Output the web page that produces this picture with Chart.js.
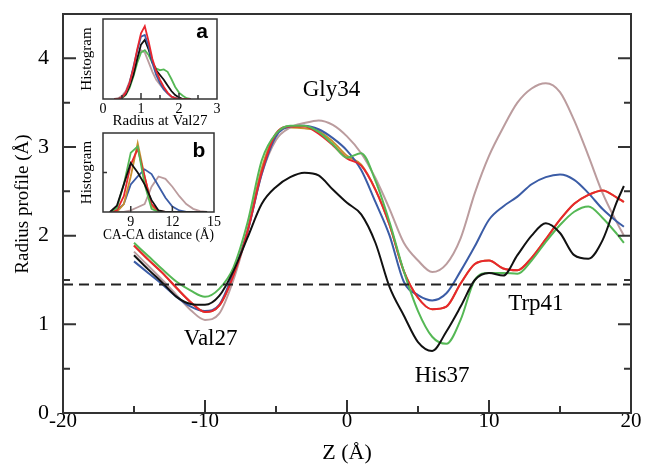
<!DOCTYPE html>
<html>
<head>
<meta charset="utf-8">
<script src="https://cdn.jsdelivr.net/npm/chart.js@4.4.1/dist/chart.umd.min.js"></script>
<style>
  html, body { margin: 0; padding: 0; background: #fff; }
  #wrap { position: relative; width: 646px; height: 466px; }
  #wrap canvas { position: absolute; }
</style>
</head>
<body>
<div id="wrap">
  <canvas id="main" width="646" height="466" style="left:0;top:0"></canvas>
  <canvas id="insetA" width="145" height="115" style="left:78px;top:15px"></canvas>
  <canvas id="insetB" width="145" height="115" style="left:78px;top:129px"></canvas>
</div>
<script>
'use strict';
// main panel: radius profile along the channel axis
const zValues = [-15, -14, -13, -12, -11, -10, -9, -8, -7, -6, -5, -4, -3, -2, -1, 0, 1, 2, 3, 4,
  5, 6, 7, 8, 9, 10, 11, 12, 13, 14, 15, 16, 17, 18, 19, 19.5];
const blackR = [1.78, 1.62, 1.47, 1.31, 1.23, 1.22, 1.32, 1.60, 1.98, 2.36, 2.55, 2.66, 2.71, 2.68, 2.52, 2.37, 2.24, 1.92, 1.42, 1.10,
  0.80, 0.70, 0.92, 1.20, 1.50, 1.58, 1.55, 1.78, 2.00, 2.14, 2.03, 1.78, 1.74, 1.95, 2.38, 2.56];
const redR = [1.89, 1.73, 1.58, 1.41, 1.25, 1.14, 1.21, 1.55, 2.05, 2.72, 3.15, 3.23, 3.23, 3.15, 3.02, 2.87, 2.79, 2.52, 2.12, 1.60,
  1.30, 1.17, 1.20, 1.46, 1.68, 1.72, 1.63, 1.61, 1.75, 1.96, 2.18, 2.36, 2.46, 2.51, 2.43, 2.38];
const greenR = [1.92, 1.77, 1.62, 1.48, 1.38, 1.31, 1.40, 1.64, 2.15, 2.85, 3.15, 3.24, 3.24, 3.17, 3.03, 2.88, 2.93, 2.62, 2.15, 1.60,
  1.15, 0.86, 0.78, 1.05, 1.50, 1.58, 1.58, 1.57, 1.72, 1.93, 2.12, 2.27, 2.33, 2.20, 2.02, 1.92];
const blueR = [1.71, 1.58, 1.45, 1.31, 1.20, 1.15, 1.22, 1.58, 2.05, 2.70, 3.12, 3.23, 3.24, 3.20, 3.10, 2.96, 2.74, 2.38, 2.00, 1.48,
  1.33, 1.27, 1.35, 1.60, 1.88, 2.18, 2.33, 2.44, 2.58, 2.66, 2.69, 2.63, 2.48, 2.30, 2.16, 2.10];
const brownR = [1.82, 1.66, 1.50, 1.33, 1.16, 1.05, 1.12, 1.50, 2.05, 2.70, 3.08, 3.22, 3.27, 3.30, 3.25, 3.12, 2.93, 2.65, 2.30, 1.92,
  1.72, 1.59, 1.68, 1.97, 2.48, 2.90, 3.22, 3.50, 3.66, 3.72, 3.62, 3.30, 2.90, 2.48, 2.15, 2.00];
const orangeR = [1.89, 1.73, 1.58, 1.41, 1.25, 1.14, 1.21, 1.55, 2.07, 2.76, 3.15, 3.22, 3.21, 3.18, 3.06, 2.90, 2.80, 2.52, 2.12, 1.60,
  1.30, 1.17, 1.20, 1.46, 1.68, 1.72, 1.63, 1.61, 1.75, 1.96, 2.18, 2.36, 2.46, 2.51, 2.43, 2.38];
const cutoffR = 1.45;
const zTickLabels = [-20, -10, 0, 10, 20];
const rTickLabels = [0, 1, 2, 3, 4];
const residueNames = ['Gly34', 'Val27', 'His37', 'Trp41'];
const residueZ = [-1.1, -9.6, 6.7, 13.3];
const residueR = [3.57, 0.77, 0.35, 1.16];

// inset a: radius histogram at Val27
const radiusBins = [0.3, 0.4, 0.5, 0.6, 0.7, 0.8, 0.9, 1.0, 1.1, 1.2, 1.3, 1.4, 1.5, 1.6, 1.7, 1.8, 1.9, 2.0, 2.1, 2.2, 2.3];
const histARed = [0, 0, 0.02, 0.08, 0.20, 0.38, 0.62, 0.82, 0.91, 0.72, 0.50, 0.35, 0.24, 0.15, 0.08, 0.03, 0.01, 0, 0, 0, 0];
const histABlue = [0, 0, 0.02, 0.08, 0.20, 0.40, 0.60, 0.78, 0.80, 0.66, 0.45, 0.30, 0.20, 0.12, 0.07, 0.03, 0.01, 0, 0, 0, 0];
const histABlack = [0, 0, 0.02, 0.06, 0.16, 0.30, 0.50, 0.68, 0.74, 0.62, 0.46, 0.36, 0.30, 0.24, 0.17, 0.10, 0.05, 0.02, 0, 0, 0];
const histAGreen = [0, 0, 0.01, 0.05, 0.14, 0.28, 0.45, 0.58, 0.61, 0.55, 0.45, 0.38, 0.36, 0.37, 0.34, 0.25, 0.15, 0.08, 0.04, 0.01, 0];
const histABrown = [0, 0.01, 0.04, 0.10, 0.22, 0.38, 0.52, 0.61, 0.58, 0.46, 0.34, 0.24, 0.18, 0.12, 0.07, 0.03, 0.01, 0, 0, 0, 0];
const radiusTickLabels = [0, 1, 2, 3];

// inset b: CA-CA distance histogram
const distBins = [7.5, 8.0, 8.5, 9.0, 9.5, 10.0, 10.5, 11.0, 11.5, 12.0, 12.5, 13.0, 13.5, 14.0, 14.5];
const histBGreen = [0, 0.05, 0.35, 0.75, 0.83, 0.35, 0.04, 0, 0, 0, 0, 0, 0, 0, 0];
const histBOrange = [0, 0, 0.10, 0.45, 0.87, 0.45, 0.08, 0, 0, 0, 0, 0, 0, 0, 0];
const histBRed = [0, 0.02, 0.20, 0.60, 0.80, 0.45, 0.10, 0.01, 0, 0, 0, 0, 0, 0, 0];
const histBBlack = [0, 0.08, 0.35, 0.62, 0.50, 0.35, 0.15, 0.02, 0, 0, 0, 0, 0, 0, 0];
const histBBlue = [0, 0.02, 0.10, 0.35, 0.45, 0.54, 0.48, 0.33, 0.18, 0.07, 0.02, 0, 0, 0, 0];
const histBBrown = [0, 0, 0, 0.02, 0.06, 0.10, 0.32, 0.45, 0.42, 0.32, 0.20, 0.10, 0.04, 0.01, 0];
const distTickLabels = [9, 12, 15];

const SERIF = "'Liberation Serif', 'Times New Roman', serif";
const SANS = "'Liberation Sans', Arial, sans-serif";
const colors = {
  black: '#111111', red: '#e8262e', green: '#55b855', blue: '#3b5ca6', brown: '#bb9c9e', orange: '#c8902e',
};

const pts = (xs, ys) => xs.map((x, i) => ({x, y: ys[i]}));
const near = (v, step) => Math.abs(v / step - Math.round(v / step)) < 1e-6;
const range = (a, b, step) => {
  const out = [];
  for (let v = a; v <= b + 1e-9; v += step) out.push(Math.round(v * 100) / 100);
  return out;
};

// frame round the plot area, ticks drawn inward
const frameTicks = {
  id: 'frameTicks',
  afterDatasetsDraw(chart, args, o) {
    const {ctx, chartArea: a} = chart;
    const x = chart.scales.x;
    const y = chart.scales.y;
    ctx.save();
    ctx.strokeStyle = o.color;
    ctx.lineWidth = o.lineWidth;
    ctx.beginPath();
    (o.bottom || []).forEach((v) => {
      const px = x.getPixelForValue(v);
      const len = near(v, o.xMajor) ? o.majorLen : o.minorLen;
      ctx.moveTo(px, a.bottom);
      ctx.lineTo(px, a.bottom - len);
    });
    (o.left || []).forEach((v) => {
      const py = y.getPixelForValue(v);
      const len = near(v, o.yMajor) ? o.majorLen : o.minorLen;
      ctx.moveTo(a.left, py);
      ctx.lineTo(a.left + len, py);
    });
    (o.right || []).forEach((v) => {
      const py = y.getPixelForValue(v);
      const len = near(v, o.yMajor) ? o.majorLen : o.minorLen;
      ctx.moveTo(a.right, py);
      ctx.lineTo(a.right - len, py);
    });
    ctx.stroke();
    ctx.strokeRect(a.left, a.top, a.right - a.left, a.bottom - a.top);
    if (o.letter) {
      ctx.fillStyle = '#000';
      ctx.font = 'bold 21px ' + SANS;
      ctx.textAlign = 'center';
      ctx.textBaseline = 'alphabetic';
      ctx.fillText(o.letter, a.right - 15, a.top + o.letterDy);
    }
    ctx.restore();
  },
};

// residue names written at data positions
const residueText = {
  id: 'residueText',
  afterDatasetsDraw(chart, args, o) {
    if (!o.names) return;
    const {ctx} = chart;
    ctx.save();
    ctx.fillStyle = '#000';
    ctx.font = '23px ' + SERIF;
    ctx.textAlign = 'center';
    ctx.textBaseline = 'alphabetic';
    o.names.forEach((name, i) => {
      ctx.fillText(name, chart.scales.x.getPixelForValue(o.z[i]), chart.scales.y.getPixelForValue(o.r[i]));
    });
    ctx.restore();
  },
};

const line = (label, xs, ys, color, width, extra) => Object.assign({
  label, data: pts(xs, ys), borderColor: color, borderWidth: width,
  pointRadius: 0, fill: false,
}, extra || {});

const smooth = {cubicInterpolationMode: 'monotone'};

// chart.js paints the first dataset on top, so the list runs top to bottom
new Chart(document.getElementById('main'), {
  type: 'line',
  data: {
    datasets: [
      line('cutoff', [-20, 20], [cutoffR, cutoffR], '#222', 2, {borderDash: [10, 6]}),
      line('black', zValues, blackR, colors.black, 2, smooth),
      line('green', zValues, greenR, colors.green, 2, smooth),
      line('red', zValues, redR, colors.red, 2, smooth),
      line('blue', zValues, blueR, colors.blue, 2, smooth),
      line('brown', zValues, brownR, colors.brown, 2, smooth),
      line('orange', zValues, orangeR, colors.orange, 2, smooth),
    ],
  },
  options: {
    responsive: false,
    animation: false,
    events: [],
    layout: {padding: {left: 8, top: 14, right: 15, bottom: 0}},
    plugins: {
      legend: {display: false},
      tooltip: {enabled: false},
      frameTicks: {
        color: '#333', lineWidth: 2, majorLen: 13, minorLen: 7, xMajor: 10, yMajor: 1,
        bottom: range(-20, 20, 5), left: range(0, 4.5, 0.5), right: range(0, 4.5, 0.5),
      },
      residueText: {names: residueNames, z: residueZ, r: residueR},
    },
    scales: {
      x: {
        type: 'linear', min: -20, max: 20,
        grid: {display: false, drawTicks: false},
        border: {display: false},
        afterBuildTicks: (s) => { s.ticks = zTickLabels.map((v) => ({value: v})); },
        afterFit: (s) => { s.height = 53; },
        ticks: {font: {family: SERIF, size: 21}, color: '#000', padding: -4, maxRotation: 0, autoSkip: false},
        title: {display: true, text: 'Z (Å)', font: {family: SERIF, size: 22}, color: '#000', padding: 0},
      },
      y: {
        min: 0, max: 4.5,
        grid: {display: false, drawTicks: false},
        border: {display: false},
        afterBuildTicks: (s) => { s.ticks = rTickLabels.map((v) => ({value: v})); },
        afterFit: (s) => { s.width = 55; s.paddingTop = 0; s.paddingBottom = 0; },
        ticks: {font: {family: SERIF, size: 22}, color: '#000', padding: 14},
        // leading no-break spaces lift the centred title a little, as in the original
        title: {display: true, text: '\u00a0\u00a0\u00a0\u00a0Radius profile (Å)', font: {family: SERIF, size: 19}, color: '#000', padding: {top: 4, bottom: 0}},
      },
    },
  },
  plugins: [frameTicks, residueText],
});

const insetOptions = (xMin, xMax, xLabels, xTitle, tickVals, xMajor, leftTicks, letter, letterDy, axisHeight) => ({
  responsive: false,
  animation: false,
  events: [],
  layout: {padding: {left: 0, top: 4, right: 6, bottom: 0}},
  plugins: {
    legend: {display: false},
    tooltip: {enabled: false},
    frameTicks: {
      color: '#333', lineWidth: 1.5, majorLen: 6, minorLen: 4, xMajor, yMajor: 1,
      bottom: tickVals, left: leftTicks, letter, letterDy,
    },
  },
  scales: {
    x: {
      type: 'linear', min: xMin, max: xMax,
      grid: {display: false, drawTicks: false},
      border: {display: false},
      afterBuildTicks: (s) => { s.ticks = xLabels.map((v) => ({value: v})); },
      afterFit: (s) => { s.height = axisHeight; },
      ticks: {font: {family: SERIF, size: 14}, color: '#000', padding: 2, maxRotation: 0, autoSkip: false},
      title: {display: true, text: xTitle, font: {family: SERIF, size: 15}, color: '#000', padding: 0},
    },
    y: {
      min: 0, max: 1,
      grid: {display: false, drawTicks: false},
      border: {display: false},
      ticks: {display: false},
      afterFit: (s) => { s.width = 25; },
      title: {display: true, text: 'Histogram', font: {family: SERIF, size: 15}, color: '#000', padding: 0},
    },
  },
});

new Chart(document.getElementById('insetA'), {
  type: 'line',
  data: {
    datasets: [
      line('red', radiusBins, histARed, colors.red, 1.8),
      line('blue', radiusBins, histABlue, colors.blue, 1.8),
      line('black', radiusBins, histABlack, colors.black, 1.8),
      line('green', radiusBins, histAGreen, colors.green, 1.8),
      line('brown', radiusBins, histABrown, colors.brown, 1.8),
    ],
  },
  options: insetOptions(0, 3, radiusTickLabels, 'Radius at Val27', range(0.5, 2.5, 0.5), 1, [], 'a', 19, 31),
  plugins: [frameTicks],
});

new Chart(document.getElementById('insetB'), {
  type: 'line',
  data: {
    datasets: [
      line('black', distBins, histBBlack, colors.black, 1.8),
      line('green', distBins, histBGreen, colors.green, 1.8),
      line('red', distBins, histBRed, colors.red, 1.8),
      line('orange', distBins, histBOrange, colors.orange, 1.8),
      line('blue', distBins, histBBlue, colors.blue, 1.8),
      line('brown', distBins, histBBrown, colors.brown, 1.8),
    ],
  },
  options: insetOptions(7, 15, distTickLabels, 'CA-CA distance (Å)', [9, 12], 3, [0.5], 'b', 24, 32),
  plugins: [frameTicks],
});
</script>
</body>
</html>
